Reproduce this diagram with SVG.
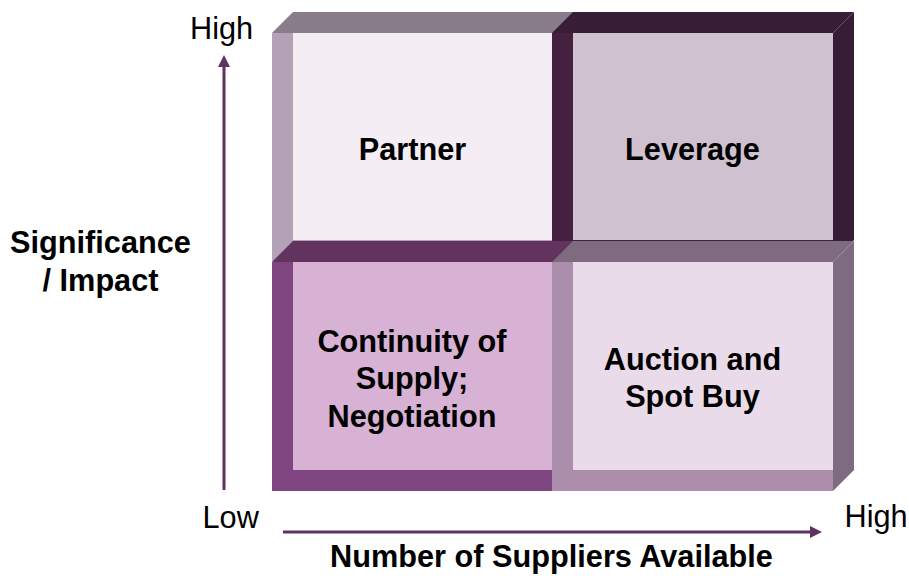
<svg xmlns="http://www.w3.org/2000/svg" width="909" height="576" viewBox="0 0 909 576">
  <style>
    text { font-family: "Liberation Sans", Arial, sans-serif; font-size: 30.7px; fill: #000; }
    .b { font-weight: bold; text-anchor: middle; }
    .axis { fill: none; stroke: #5f3360; stroke-width: 3; }
  </style>
  <defs>
    <marker id="ah" markerUnits="userSpaceOnUse" markerWidth="12" markerHeight="12" viewBox="0 0 12 12" refX="2" refY="6" orient="auto">
      <path d="M0,0 L12,6 L0,12 z" fill="#5f3360"/>
    </marker>
  </defs>
  <rect width="909" height="576" fill="#fff"/>

  <g id="partner">
    <polygon points="553,33 574,12 574,240 553,261" fill="#8a7d8a"/>
    <polygon points="272,33 293,12 574,12 553,33" fill="#8a7d8a"/>
    <rect x="272" y="33" width="21" height="228" fill="#b3a2b5"/>
    <rect x="272" y="240" width="281" height="21" fill="#b3a2b5"/>
    <rect x="293" y="33" width="260" height="207" fill="#f4edf4"/>
    <text class="b" x="412.5" y="160">Partner</text>
  </g>

  <g id="leverage">
    <polygon points="833,33 854,12 854,240 833,261" fill="#381d36"/>
    <polygon points="552,33 573,12 854,12 833,33" fill="#381d36"/>
    <rect x="552" y="33" width="21" height="228" fill="#44213f"/>
    <rect x="552" y="240" width="281" height="21" fill="#44213f"/>
    <rect x="573" y="33" width="260" height="207" fill="#cfc1cf"/>
    <text class="b" x="692.5" y="160">Leverage</text>
  </g>

  <g id="continuity">
    <polygon points="553,262 574,241 574,470 553,491" fill="#62335e"/>
    <polygon points="272,262 293,241 574,241 553,262" fill="#62335e"/>
    <rect x="272" y="262" width="21" height="229" fill="#7f4580"/>
    <rect x="272" y="470" width="281" height="21" fill="#7f4580"/>
    <rect x="293" y="262" width="260" height="208" fill="#d7b2d5"/>
    <text class="b" x="412" y="352">Continuity of</text>
    <text class="b" x="412" y="389">Supply;</text>
    <text class="b" x="412" y="426.5">Negotiation</text>
  </g>

  <g id="auction">
    <polygon points="833,262 854,241 854,470 833,491" fill="#7f6b7f"/>
    <polygon points="552,262 573,241 854,241 833,262" fill="#7f6b7f"/>
    <rect x="552" y="262" width="21" height="229" fill="#ab8eab"/>
    <rect x="552" y="470" width="281" height="21" fill="#ab8eab"/>
    <rect x="573" y="262" width="260" height="208" fill="#eadbea"/>
    <text class="b" x="692.5" y="370">Auction and</text>
    <text class="b" x="692.5" y="407">Spot Buy</text>
  </g>

  <g id="connectors">
    <line class="axis" x1="224" y1="490" x2="224" y2="65" marker-end="url(#ah)"/>
    <line class="axis" x1="283" y1="532" x2="812" y2="532" marker-end="url(#ah)"/>
  </g>

  <g id="labels">
    <text x="190" y="39">High</text>
    <text x="202.5" y="528">Low</text>
    <text x="844.5" y="527">High</text>
    <text class="b" x="100.5" y="253">Significance</text>
    <text class="b" x="100.5" y="291">/ Impact</text>
    <text class="b" x="551.5" y="567">Number of Suppliers Available</text>
  </g>
</svg>
